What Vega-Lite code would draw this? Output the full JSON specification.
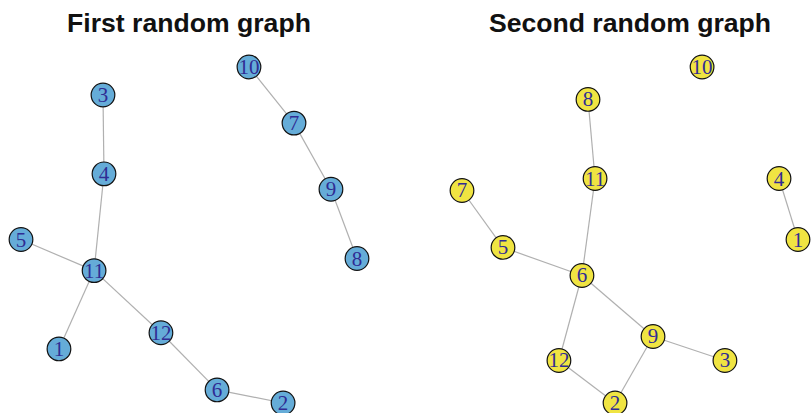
{
  "$schema": "https://vega.github.io/schema/vega-lite/v6.json",
  "padding": {"left": 6, "top": 11, "right": 0, "bottom": 0},
  "bounds": "flush",
  "spacing": 105,
  "background": "white",
  "config": {
    "view": {"stroke": null},
    "title": {"font": "Liberation Sans", "fontSize": 26.6, "fontWeight": "bold", "color": "#111111", "anchor": "middle", "offset": 15, "baseline": "alphabetic"}
  },
  "datasets": {
    "nodes1": [
      {"id": "10", "x": 0.357, "y": 1.0},
      {"id": "3", "x": -0.512, "y": 0.833},
      {"id": "7", "x": 0.625, "y": 0.666},
      {"id": "4", "x": -0.506, "y": 0.364},
      {"id": "9", "x": 0.845, "y": 0.272},
      {"id": "5", "x": -1.0, "y": -0.027},
      {"id": "11", "x": -0.565, "y": -0.212},
      {"id": "8", "x": 1.0, "y": -0.14},
      {"id": "12", "x": -0.167, "y": -0.582},
      {"id": "1", "x": -0.774, "y": -0.678},
      {"id": "6", "x": 0.167, "y": -0.922},
      {"id": "2", "x": 0.56, "y": -1.0}
    ],
    "edges1": [
      {"from": "10", "to": "7"},
      {"from": "7", "to": "9"},
      {"from": "9", "to": "8"},
      {"from": "3", "to": "4"},
      {"from": "4", "to": "11"},
      {"from": "5", "to": "11"},
      {"from": "11", "to": "1"},
      {"from": "11", "to": "12"},
      {"from": "12", "to": "6"},
      {"from": "6", "to": "2"}
    ],
    "nodes2": [
      {"id": "10", "x": 0.429, "y": 1.0},
      {"id": "8", "x": -0.25, "y": 0.807},
      {"id": "11", "x": -0.208, "y": 0.336},
      {"id": "7", "x": -1.0, "y": 0.265},
      {"id": "4", "x": 0.887, "y": 0.336},
      {"id": "5", "x": -0.756, "y": -0.074},
      {"id": "1", "x": 1.0, "y": -0.027},
      {"id": "6", "x": -0.286, "y": -0.241},
      {"id": "9", "x": 0.137, "y": -0.604},
      {"id": "12", "x": -0.423, "y": -0.747},
      {"id": "3", "x": 0.565, "y": -0.747},
      {"id": "2", "x": -0.089, "y": -1.0}
    ],
    "edges2": [
      {"from": "8", "to": "11"},
      {"from": "11", "to": "6"},
      {"from": "7", "to": "5"},
      {"from": "5", "to": "6"},
      {"from": "6", "to": "9"},
      {"from": "6", "to": "12"},
      {"from": "12", "to": "2"},
      {"from": "2", "to": "9"},
      {"from": "9", "to": "3"},
      {"from": "4", "to": "1"}
    ]
  },
  "hconcat": [
    {
      "width": 336,
      "height": 336,
      "title": "First random graph",
      "layer": [
        {
          "data": {"name": "edges1"},
          "transform": [
            {"lookup": "from", "from": {"data": {"name": "nodes1"}, "key": "id", "fields": ["x", "y"]}, "as": ["x1", "y1"]},
            {"lookup": "to", "from": {"data": {"name": "nodes1"}, "key": "id", "fields": ["x", "y"]}, "as": ["x2", "y2"]}
          ],
          "mark": {"type": "rule", "color": "#b0b0b0", "strokeWidth": 1.2},
          "encoding": {
            "x": {"field": "x1", "type": "quantitative", "scale": {"domain": [-1, 1], "nice": false, "zero": false}, "axis": null},
            "y": {"field": "y1", "type": "quantitative", "scale": {"domain": [-1, 1], "nice": false, "zero": false}, "axis": null},
            "x2": {"field": "x2"},
            "y2": {"field": "y2"}
          }
        },
        {
          "data": {"name": "nodes1"},
          "mark": {"type": "circle", "size": 560, "fill": "#65acd8", "stroke": "#111111", "strokeWidth": 1.2, "opacity": 1},
          "encoding": {
            "x": {"field": "x", "type": "quantitative", "axis": null},
            "y": {"field": "y", "type": "quantitative", "axis": null}
          }
        },
        {
          "data": {"name": "nodes1"},
          "mark": {"type": "text", "font": "Liberation Serif", "fontSize": 21, "color": "#302c94", "baseline": "middle", "align": "center", "dy": 1},
          "encoding": {
            "x": {"field": "x", "type": "quantitative", "axis": null},
            "y": {"field": "y", "type": "quantitative", "axis": null},
            "text": {"field": "id"}
          }
        }
      ]
    },
    {
      "width": 336,
      "height": 336,
      "title": "Second random graph",
      "layer": [
        {
          "data": {"name": "edges2"},
          "transform": [
            {"lookup": "from", "from": {"data": {"name": "nodes2"}, "key": "id", "fields": ["x", "y"]}, "as": ["x1", "y1"]},
            {"lookup": "to", "from": {"data": {"name": "nodes2"}, "key": "id", "fields": ["x", "y"]}, "as": ["x2", "y2"]}
          ],
          "mark": {"type": "rule", "color": "#b0b0b0", "strokeWidth": 1.2},
          "encoding": {
            "x": {"field": "x1", "type": "quantitative", "scale": {"domain": [-1, 1], "nice": false, "zero": false}, "axis": null},
            "y": {"field": "y1", "type": "quantitative", "scale": {"domain": [-1, 1], "nice": false, "zero": false}, "axis": null},
            "x2": {"field": "x2"},
            "y2": {"field": "y2"}
          }
        },
        {
          "data": {"name": "nodes2"},
          "mark": {"type": "circle", "size": 560, "fill": "#f0e442", "stroke": "#111111", "strokeWidth": 1.2, "opacity": 1},
          "encoding": {
            "x": {"field": "x", "type": "quantitative", "axis": null},
            "y": {"field": "y", "type": "quantitative", "axis": null}
          }
        },
        {
          "data": {"name": "nodes2"},
          "mark": {"type": "text", "font": "Liberation Serif", "fontSize": 21, "color": "#302c94", "baseline": "middle", "align": "center", "dy": 1},
          "encoding": {
            "x": {"field": "x", "type": "quantitative", "axis": null},
            "y": {"field": "y", "type": "quantitative", "axis": null},
            "text": {"field": "id"}
          }
        }
      ]
    }
  ]
}
